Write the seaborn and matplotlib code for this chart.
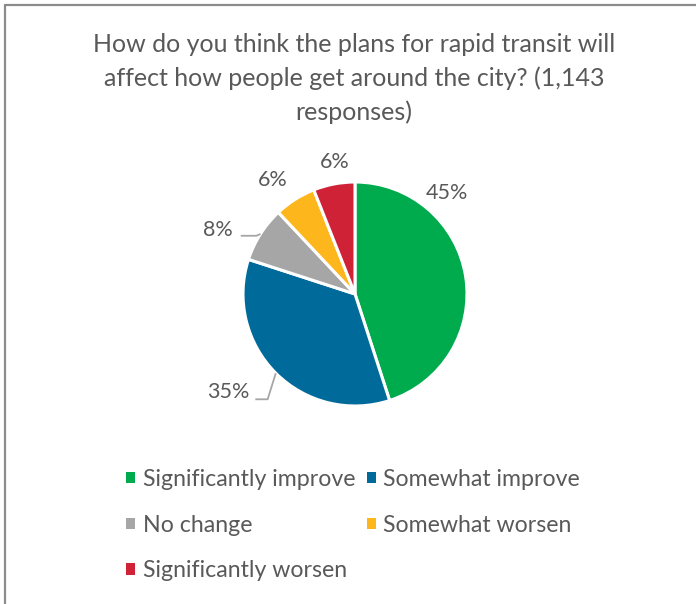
import matplotlib
matplotlib.use("Agg")
import matplotlib.pyplot as plt
from matplotlib.lines import Line2D
from matplotlib.patches import Patch
import numpy as np
import seaborn as sns

categories = ["Significantly improve", "Somewhat improve", "No change",
              "Somewhat worsen", "Significantly worsen"]
values = [45, 35, 8, 6, 6]
value_labels = ["45%", "35%", "8%", "6%", "6%"]
title = "How do you think the plans for rapid transit will\naffect how people get around the city? (1,143\nresponses)"

colors = ["#00AB4E", "#006A9A", "#A6A6A6", "#FDB61C", "#D02237"]
text_color = "#595959"
FONT = "Lato"

sns.set_theme(style="white")
plt.rcParams["font.family"] = [FONT, "DejaVu Sans"]

fig = plt.figure(figsize=(6.96, 6.04), dpi=100)
fig.patch.set_facecolor("white")

W, H = 696, 604
cx, cy, R = 355, 294, 112
side = 3 * R
ax = fig.add_axes([(cx - side / 2) / W, (H - cy - side / 2) / H, side / W, side / H])

wedges, _ = ax.pie(values, colors=sns.color_palette(colors), startangle=90,
                   counterclock=False, radius=1,
                   wedgeprops=dict(edgecolor="white", linewidth=2.2))
ax.set_xlim(-1.5, 1.5)
ax.set_ylim(-1.5, 1.5)
ax.set_aspect("equal")
ax.axis("off")

# label positions (layout, in pie-radius units)
label_pos = [(0.82, 0.90), (-1.13, -0.875), (-1.22, 0.57), (-0.73, 1.02), (-0.18, 1.18)]
for (x, y), lab in zip(label_pos, value_labels):
    ax.text(x, y, lab, ha="center", va="center", fontsize=15.5, color=text_color)

# leader lines for blue and gray slices
leaders = {1: [(-0.78, -0.94), (-0.89, -0.94)], 2: [(-0.88, 0.52), (-1.02, 0.52)]}
for idx, pts in leaders.items():
    w = wedges[idx]
    mid = np.deg2rad((w.theta1 + w.theta2) / 2)
    xs = [np.cos(mid)] + [p[0] for p in pts]
    ys = [np.sin(mid)] + [p[1] for p in pts]
    ax.plot(xs, ys, color="#A6A6A6", lw=1.3, solid_capstyle="butt")

fig.text(354 / W, 1 - 33 / H, title, ha="center", va="top", fontsize=18,
         color=text_color, linespacing=1.54)

handles = [Patch(facecolor=c, edgecolor="none") for c in colors]
order = [0, 2, 4, 1, 3]
leg = fig.legend([handles[i] for i in order], [categories[i] for i in order],
                 loc="upper left", bbox_to_anchor=(126 / W, 1 - 469 / H), ncol=2,
                 frameon=False, fontsize=16.7, handlelength=0.39, handleheight=0.39,
                 handletextpad=0.33, columnspacing=0.5, labelspacing=1.06,
                 borderaxespad=0, borderpad=0)
for t in leg.get_texts():
    t.set_color(text_color)

border_kw = dict(color="#8C8C8C", lw=1.6, transform=fig.transFigure)
fig.add_artist(Line2D([5 / W, 5 / W], [0, 1 - 5 / H], **border_kw))
fig.add_artist(Line2D([5 / W, 1], [1 - 5 / H, 1 - 5 / H], **border_kw))

fig.savefig("out.png", dpi=100, facecolor="white")
